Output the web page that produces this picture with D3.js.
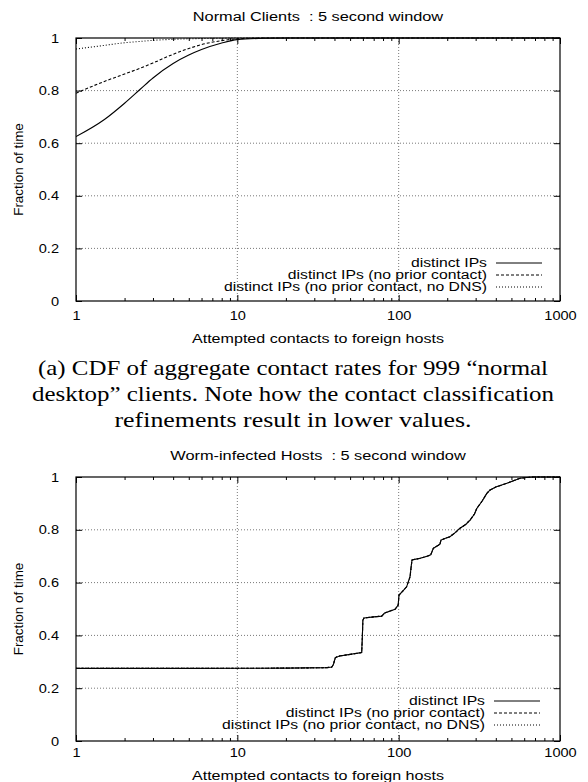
<!DOCTYPE html>
<html><head><meta charset="utf-8">
<script src="https://cdn.jsdelivr.net/npm/d3@7"></script>
<style>
body{margin:0;background:#fff;}
svg{display:block;}
text{white-space:pre;}
.sans{font-family:"Liberation Sans",Arial,Helvetica,sans-serif;}
.serif{font-family:"Liberation Serif","Times New Roman",serif;}
</style></head>
<body>
<script>
// ---------- data ----------
const xTicks = [1, 10, 100, 1000];
const xTickLabels = ["1", "10", "100", "1000"];
const yTicks = [0, 0.2, 0.4, 0.6, 0.8, 1];
const yTickLabels = ["0", "0.2", "0.4", "0.6", "0.8", "1"];
const seriesNames = ["distinct IPs", "distinct IPs (no prior contact)", "distinct IPs (no prior contact, no DNS)"];

// Normal clients
const normalX = [1, 1.5, 2, 2.5, 3, 4, 5, 6, 8, 10, 15, 20, 1000];
const normalAll = [0.625, 0.69, 0.752, 0.805, 0.848, 0.903, 0.935, 0.956, 0.981, 0.994, 0.999, 1, 1];
const normalNoPrior = [0.79, 0.835, 0.863, 0.885, 0.905, 0.938, 0.96, 0.975, 0.99, 0.997, 1, 1, 1];
const normalNoDNS = [0.958, 0.972, 0.982, 0.987, 0.991, 0.995, 0.997, 0.998, 0.999, 1, 1, 1, 1];

// Worm-infected hosts (all three series coincide)
const wormX = [1, 5, 20, 36, 38.5, 39.4, 40.5, 43, 50, 59, 59.6, 60, 61, 70, 78.5, 82, 95, 99.3, 100.5, 106, 112, 117.6, 119.5, 121, 128, 136, 150, 158, 164, 172, 180, 183, 195, 208, 225, 240, 260, 277, 295, 305, 330, 352, 369, 400, 468, 520, 566, 620, 684, 1000];
const wormAll = [0.275, 0.275, 0.276, 0.278, 0.28, 0.29, 0.316, 0.322, 0.328, 0.335, 0.40, 0.458, 0.466, 0.47, 0.473, 0.485, 0.499, 0.515, 0.553, 0.568, 0.584, 0.622, 0.66, 0.686, 0.689, 0.692, 0.70, 0.705, 0.73, 0.738, 0.745, 0.761, 0.768, 0.774, 0.79, 0.806, 0.82, 0.837, 0.86, 0.881, 0.91, 0.938, 0.951, 0.962, 0.976, 0.987, 0.995, 0.998, 1.0, 1.0];
const wormNoPrior = wormAll.slice();
const wormNoDNS = wormAll.slice();

const captionLines = ["(a) CDF of aggregate contact rates for 999 \u201cnormal", "desktop\u201d clients. Note how the contact classification", "refinements result in lower values."];

// ---------- drawing ----------
const W = 588, H = 782;
const svg = d3.select("body").append("svg").attr("width", W).attr("height", H);
const dashes = [null, "3,2", "1,2"];

function stretch(sel, f) {
  sel.each(function () {
    const L = this.getComputedTextLength();
    d3.select(this).attr("textLength", L * f).attr("lengthAdjust", "spacingAndGlyphs");
  });
}

function drawPanel(cfg) {
  const left = 76, right = 560;
  const x = d3.scaleLog().domain([1, 1000]).range([left, right]);
  const y = d3.scaleLinear().domain([0, 1]).range([cfg.bottom, cfg.top]);
  const g = svg.append("g").attr("class", "sans");
  const id = "clip" + cfg.top;
  svg.append("clipPath").attr("id", id).append("rect")
    .attr("x", left).attr("y", cfg.top - 1).attr("width", right - left).attr("height", cfg.bottom - cfg.top + 2);

  // title
  const t = g.append("text").attr("x", (left + right) / 2).attr("y", cfg.top - 17)
    .attr("text-anchor", "middle").attr("font-size", 12).text(cfg.title);
  stretch(t, 1.36);

  // grid
  const gridG = g.append("g").attr("stroke", "#555").attr("stroke-width", 0.8).attr("stroke-dasharray", "1,2");
  yTicks.filter(v => v > 0 && v < 1).forEach(v => {
    gridG.append("line").attr("x1", left).attr("x2", right).attr("y1", y(v)).attr("y2", y(v));
  });
  xTicks.filter(v => v > 1 && v < 1000).forEach(v => {
    gridG.append("line").attr("y1", cfg.top).attr("y2", cfg.bottom).attr("x1", x(v)).attr("x2", x(v));
  });

  // x axes bottom / top with minor ticks
  const minor = [];
  for (let d = 1; d < 1000; d *= 10) for (let k = 2; k <= 9; k++) minor.push(d * k);
  const xb = d3.axisBottom(x).tickValues(xTicks).tickFormat((d, i) => xTickLabels[i]).tickSizeInner(-6).tickSizeOuter(0);
  const axB = g.append("g").attr("transform", `translate(0,${cfg.bottom})`).call(xb);
  axB.select(".domain").remove();
  axB.selectAll("text").attr("font-size", 13).attr("font-family", "Liberation Sans, Arial, sans-serif")
    .attr("y", cfg.tickGap).attr("dy", 0).call(stretch, 1.12);
  const xbm = d3.axisBottom(x).tickValues(minor).tickFormat("").tickSizeInner(-3).tickSizeOuter(0);
  const axBm = g.append("g").attr("transform", `translate(0,${cfg.bottom})`).call(xbm);
  axBm.select(".domain").remove();
  const xt = d3.axisTop(x).tickValues(xTicks).tickFormat("").tickSizeInner(-6).tickSizeOuter(0);
  const axT = g.append("g").attr("transform", `translate(0,${cfg.top})`).call(xt);
  axT.select(".domain").remove();
  const xtm = d3.axisTop(x).tickValues(minor).tickFormat("").tickSizeInner(-3).tickSizeOuter(0);
  const axTm = g.append("g").attr("transform", `translate(0,${cfg.top})`).call(xtm);
  axTm.select(".domain").remove();

  // y axes
  const yl = d3.axisLeft(y).tickValues(yTicks).tickFormat((d, i) => yTickLabels[i]).tickSizeInner(-6).tickSizeOuter(0).tickPadding(17);
  const axL = g.append("g").attr("transform", `translate(${left},0)`).call(yl);
  axL.select(".domain").remove();
  axL.selectAll("text").attr("font-size", 13).attr("font-family", "Liberation Sans, Arial, sans-serif").call(stretch, 1.12);
  const yr = d3.axisRight(y).tickValues(yTicks).tickFormat("").tickSizeInner(-6).tickSizeOuter(0);
  const axR = g.append("g").attr("transform", `translate(${right},0)`).call(yr);
  axR.select(".domain").remove();

  // labels
  g.append("text").attr("x", (left + right) / 2).attr("y", cfg.bottom + cfg.labelGap)
    .attr("text-anchor", "middle").attr("font-size", 12).text("Attempted contacts to foreign hosts")
    .call(stretch, 1.34);
  g.append("text").attr("transform", `translate(23,${(cfg.top + cfg.bottom) / 2}) rotate(-90)`)
    .attr("text-anchor", "middle").attr("font-size", 12).text("Fraction of time")
    .call(stretch, 1.12);

  // series
  const line = d3.line().x(d => x(d[0])).y(d => y(d[1])).curve(cfg.curve);
  const series = cfg.series;
  for (let s = series.length - 1; s >= 0; s--) {
    const pts = cfg.xs.map((v, i) => [v, series[s][i]]);
    g.append("path").attr("clip-path", `url(#${id})`).attr("d", line(pts))
      .attr("fill", "none").attr("stroke", "#000").attr("stroke-width", 1.1)
      .attr("stroke-dasharray", dashes[s]);
  }

  // legend
  seriesNames.forEach((n, i) => {
    const yy = cfg.legY + i * 12;
    g.append("text").attr("x", cfg.legX).attr("y", yy + 4).attr("text-anchor", "end").attr("font-size", 12).text(n)
      .call(stretch, 1.31);
    g.append("line").attr("x1", cfg.legX + 9).attr("x2", cfg.legX + 55).attr("y1", yy).attr("y2", yy)
      .attr("stroke", "#000").attr("stroke-width", 1).attr("stroke-dasharray", dashes[i]);
  });

  // border
  g.append("rect").attr("x", left).attr("y", cfg.top).attr("width", right - left).attr("height", cfg.bottom - cfg.top)
    .attr("fill", "none").attr("stroke", "#000").attr("stroke-width", 1.2);
}

drawPanel({top: 38, bottom: 301, title: "Normal Clients  : 5 second window", xs: normalX,
  series: [normalAll, normalNoPrior, normalNoDNS], curve: d3.curveMonotoneX,
  legX: 487, legY: 263, tickGap: 19, labelGap: 42});

// caption
const cap = svg.append("g").attr("class", "serif");
const capLens = [510, 522, 357];
captionLines.forEach((t, i) => {
  cap.append("text").attr("x", 293).attr("y", 375 + i * 26).attr("text-anchor", "middle")
    .attr("font-size", 21).attr("textLength", capLens[i]).attr("lengthAdjust", "spacingAndGlyphs").text(t);
});

drawPanel({top: 477, bottom: 741, title: "Worm-infected Hosts  : 5 second window", xs: wormX,
  series: [wormAll, wormNoPrior, wormNoDNS], curve: d3.curveLinear,
  legX: 485, legY: 701, tickGap: 16, labelGap: 39});
</script>
</body></html>
